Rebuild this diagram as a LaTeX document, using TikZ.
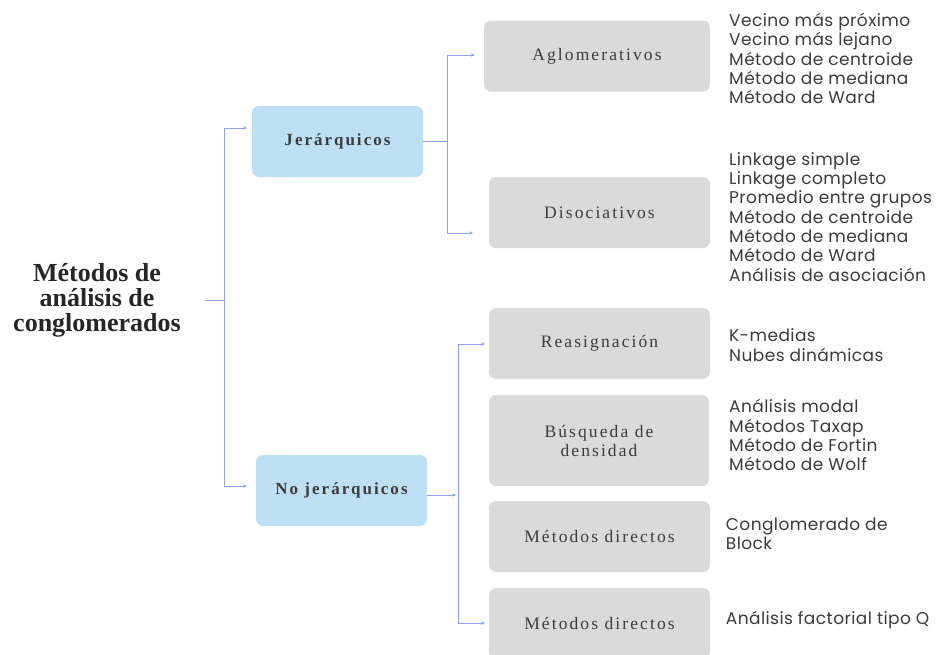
\documentclass[tikz,border=0pt]{standalone}
\usepackage{fontspec}
\usetikzlibrary{arrows.meta}
\setmainfont{Liberation Serif}
\newfontfamily\listfont{Poppins}[LetterSpace=2.5]
\newfontfamily\boxfont{Liberation Serif}[LetterSpace=12]
\newfontfamily\catfont{Liberation Serif}[LetterSpace=12]
\definecolor{catblue}{HTML}{BDE0F5}
\definecolor{boxgray}{HTML}{DADADA}
\definecolor{linkblue}{HTML}{8FA3F2}
\definecolor{txt}{HTML}{3C3C3C}
\begin{document}
\begin{tikzpicture}[x=1pt,y=-1pt,
 cat/.style={fill=catblue, rounded corners=7pt, minimum width=171pt, minimum height=71pt, font=\catfont\bfseries\fontsize{17}{20}\selectfont, text=txt, inner sep=0pt},
 sub/.style={fill=boxgray, rounded corners=7pt, minimum width=221pt, minimum height=71pt, font=\boxfont\fontsize{17.5}{19}\selectfont, text=txt, align=center, inner sep=0pt},
 items/.style={anchor=base west, align=left, font=\listfont\fontsize{17}{19.3}\selectfont, text=txt, inner sep=0pt},
 link/.style={draw=linkblue, line width=1pt},
 arr/.style={link, -{Stealth[length=4pt,width=3.5pt]}}
]
\useasboundingbox (0,0) rectangle (940,654);
\fill[white] (0,0) rectangle (940,654);

% root
\node[align=center, font=\bfseries\fontsize{26}{25}\selectfont, text=black!85] (root) at (97,300) {Métodos de\\análisis de\\conglomerados};

% categories
\node[cat] (jer) at (337.5,141.5) {Jerárquicos};
\node[cat] (noj) at (341.5,490.5) {No jerárquicos};

% sub boxes
\node[sub, minimum width=226pt] (agl) at (597,56) {Aglomerativos};
\node[sub] (dis) at (599.5,212.5) {Disociativos};
\node[sub] (rea) at (599.5,343.5) {Reasignación};
\node[sub, minimum width=220pt, minimum height=91pt] (bus) at (599,440.5) {Búsqueda de\\densidad};
\node[sub] (md1) at (599.5,536.5) {Métodos directos};
\node[sub] (md2) at (599.5,623.5) {Métodos directos};

% item lists (anchored at the baseline of their last line)
\node[items] (lagl) at (729,103.7) {Vecino más próximo\\Vecino más lejano\\Método de centroide\\Método de mediana\\Método de Ward};
\node[items] (ldis) at (729,281) {Linkage simple\\Linkage completo\\Promedio entre grupos\\Método de centroide\\Método de mediana\\Método de Ward\\Análisis de asociación};
\node[items] (lrea) at (729,361) {K-medias\\Nubes dinámicas};
\node[items] (lbus) at (729,470.7) {Análisis modal\\Métodos Taxap\\Método de Fortin\\Método de Wolf};
\node[items] (lmd1) at (725.7,549.3) {Conglomerado de\\Block};
\node[items] (lmd2) at (725.7,624) {Análisis factorial tipo Q};

% connectors root
\coordinate (r0) at (205,300);
\coordinate (rs) at (224,300);
\coordinate (ajer) at (247,128);
\coordinate (anoj) at (247,486);
\draw[link] (r0) -- (rs);
\draw[arr] (rs) |- (ajer);
\draw[arr] (rs) |- (anoj);

% connectors jer
\coordinate (js) at (447,141.5);
\coordinate (aagl) at (475,55);
\coordinate (adis) at (473,233);
\draw[link] (jer.east) -- (js);
\draw[arr] (js) |- (aagl);
\draw[arr] (js) |- (adis);

% connectors noj
\coordinate (ns) at (458,495);
\coordinate (nsa) at (456,495);
\coordinate (area) at (485,344);
\coordinate (amd2) at (485,623);
\draw[arr] (noj.east |- nsa) -- (nsa);
\draw[arr] (ns) |- (area);
\draw[arr] (ns) |- (amd2);
\end{tikzpicture}
\end{document}
